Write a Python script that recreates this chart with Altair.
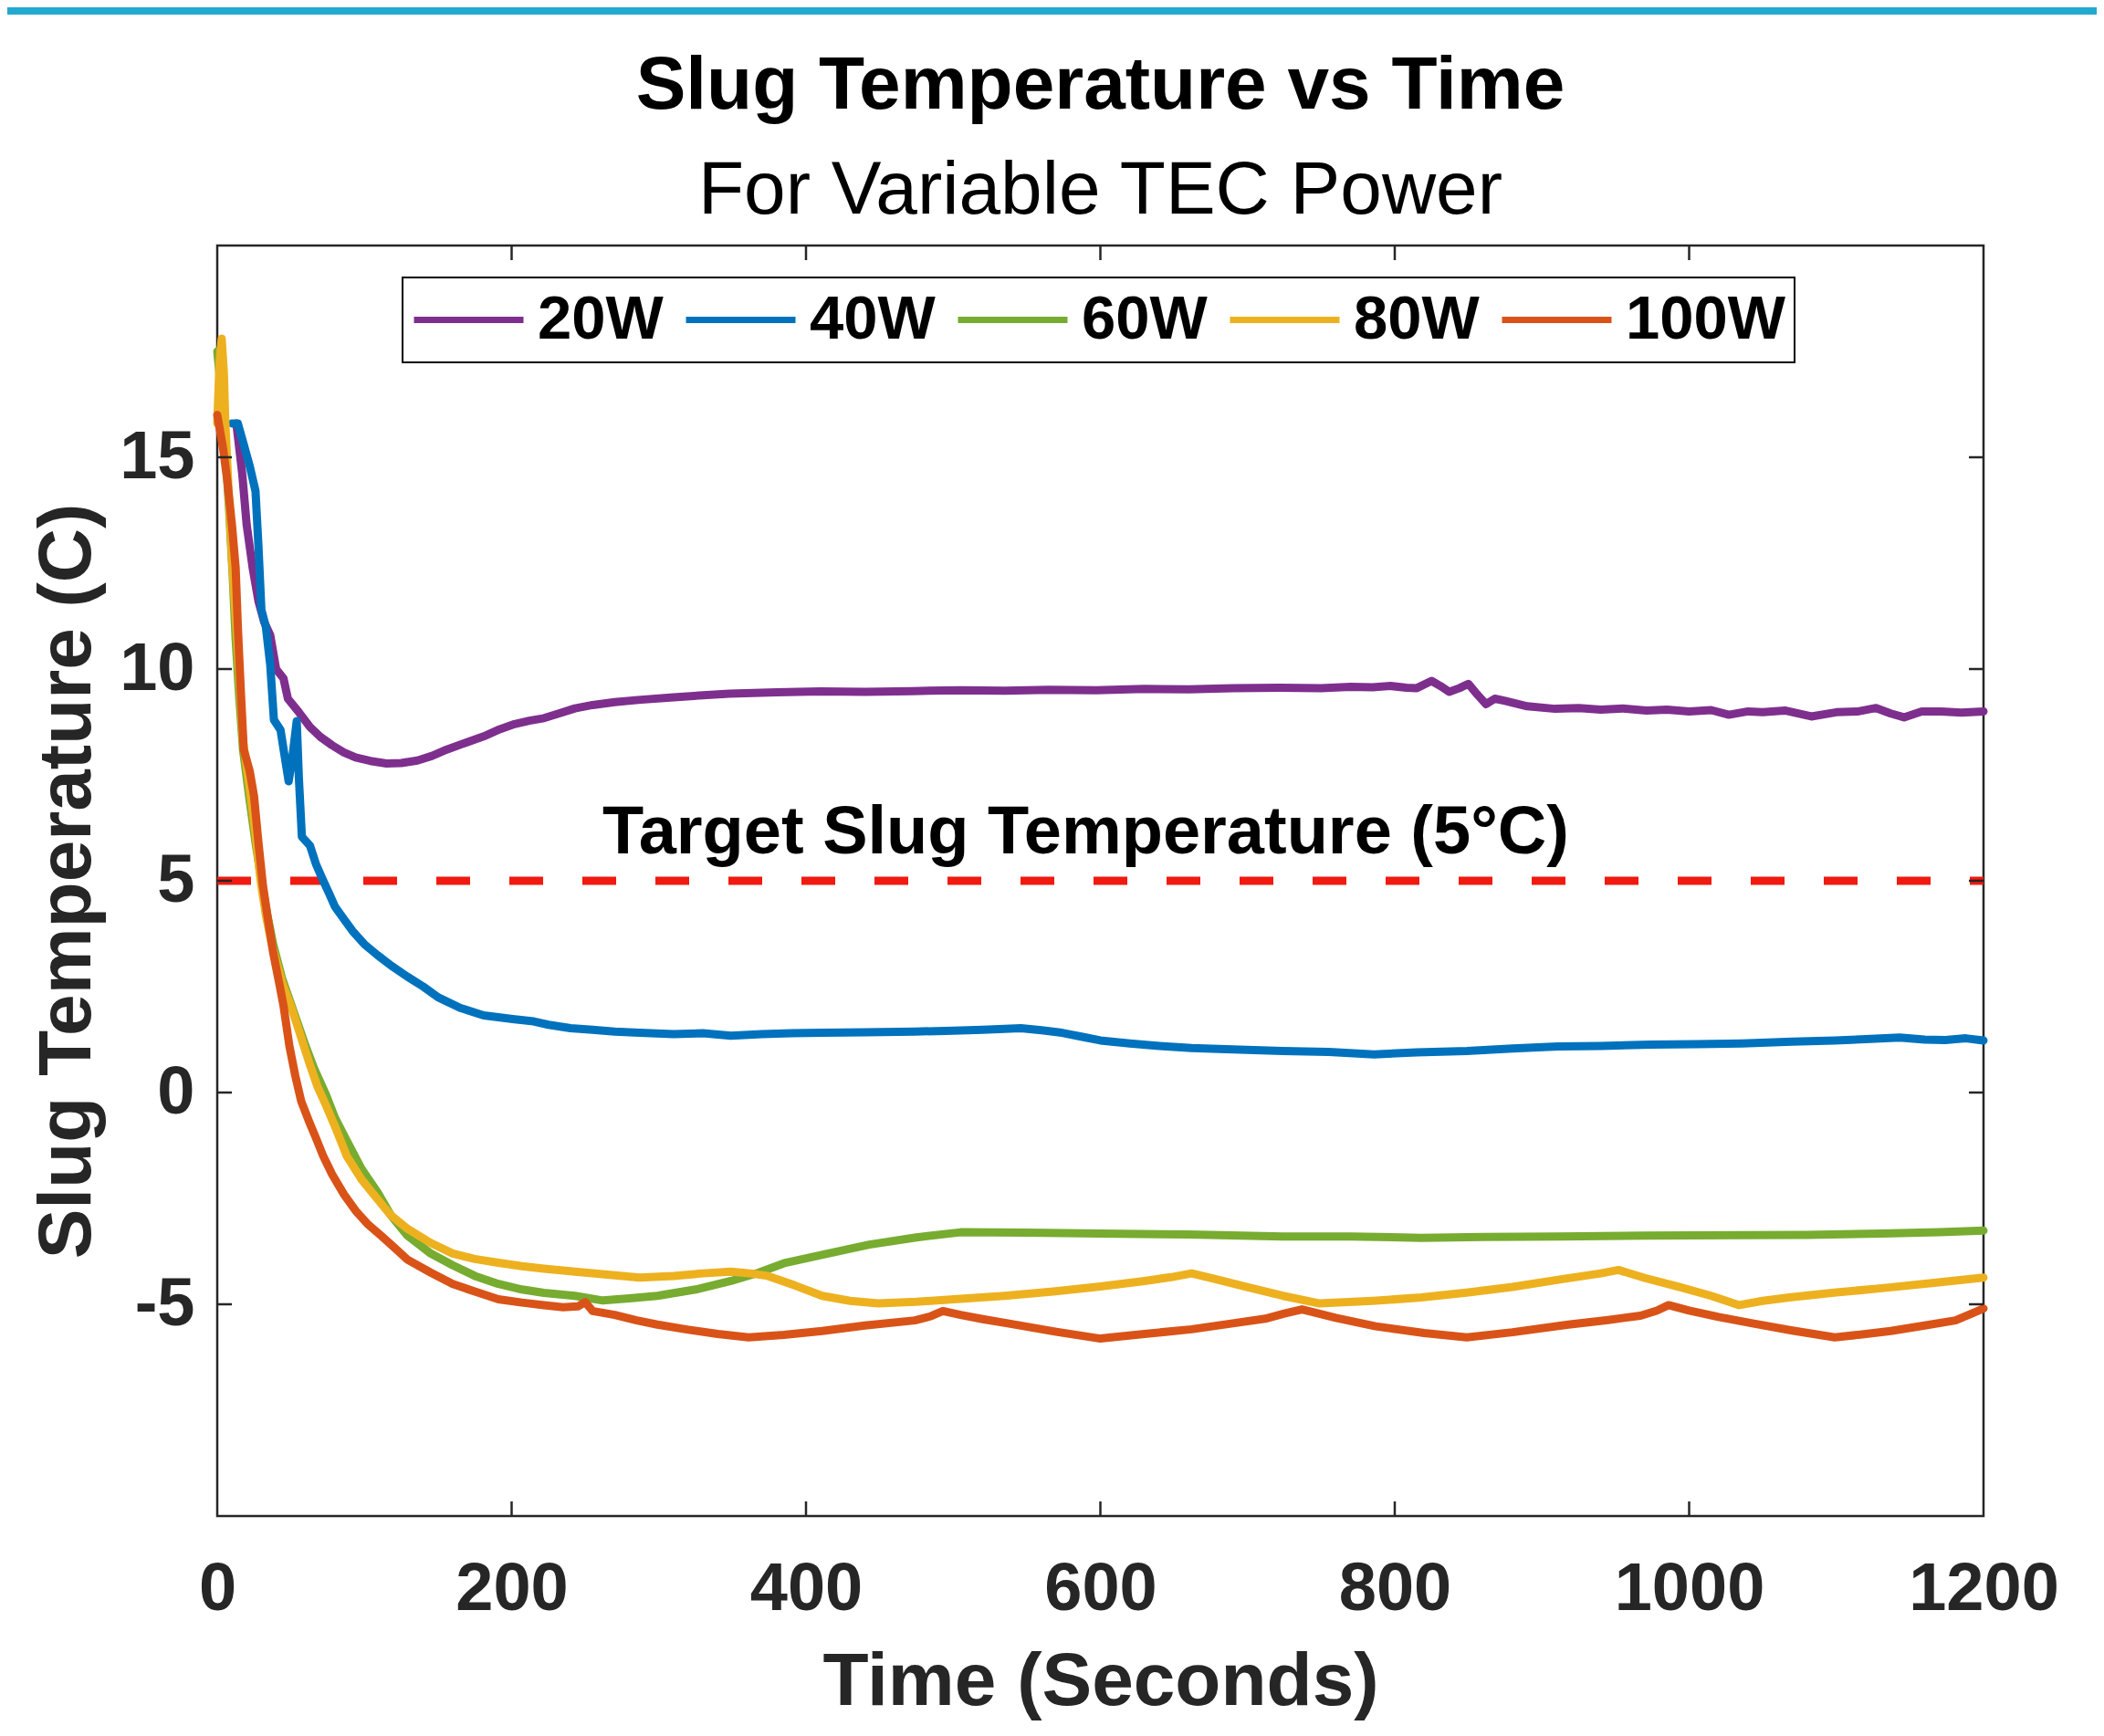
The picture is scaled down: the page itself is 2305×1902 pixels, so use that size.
import altair as alt
import pandas as pd

FONT = "Liberation Sans"
AXIS_COLOR = "#262626"

# ---------------- data ----------------
series_names = ["20W", "40W", "60W", "80W", "100W"]
series_colors = ["#7E2F8E", "#0072BD", "#77AC30", "#EDB120", "#D95319"]

t_20 = [13, 17, 20, 24, 28, 32, 36, 40, 45, 48, 55, 63, 70, 78, 86, 94, 104, 115, 125, 136, 146, 156, 168,
        181, 192, 202, 212, 222, 232, 243, 255, 270, 286, 310, 330, 348, 380, 410, 440, 472, 505, 535, 565,
        597, 630, 660, 690, 722, 750, 770, 785, 797, 808, 815, 825, 831, 837, 844, 850, 856, 862, 868, 875,
        890, 909, 925, 940, 955, 971, 985, 1000, 1015, 1027, 1040, 1050, 1065, 1083, 1100, 1115, 1127, 1137,
        1146, 1158, 1171, 1185, 1200]
v_20 = [15.8, 14.6, 13.4, 12.4, 11.6, 11.1, 10.8, 10.0, 9.78, 9.3, 9.0, 8.63, 8.4, 8.2, 8.03, 7.91, 7.83,
        7.77, 7.78, 7.84, 7.95, 8.1, 8.25, 8.41, 8.58, 8.7, 8.78, 8.84, 8.95, 9.07, 9.15, 9.22, 9.27, 9.33,
        9.38, 9.42, 9.45, 9.47, 9.46, 9.48, 9.5, 9.49, 9.51, 9.5, 9.53, 9.52, 9.55, 9.56, 9.55, 9.58, 9.57,
        9.6, 9.56, 9.55, 9.72, 9.6, 9.46, 9.55, 9.65, 9.4, 9.17, 9.3, 9.25, 9.12, 9.06, 9.08, 9.04, 9.07,
        9.02, 9.04, 9.0, 9.03, 8.92, 9.0, 8.98, 9.02, 8.88, 8.98, 9.0, 9.08, 8.95, 8.86, 9.0, 9.0, 8.97, 9.0]

t_40 = [10, 14, 18, 22, 26, 28, 30, 33, 36, 38.5, 43, 46, 48.5, 51, 54, 55.5, 57.5, 63, 67, 71.5, 76, 80, 86,
        92, 100, 109, 118, 129, 140, 150, 165, 181, 202, 215, 225, 240, 255, 270, 287, 310, 330, 349, 370,
        390, 411, 440, 474, 500, 520, 546, 560, 574, 587, 600, 620, 640, 662, 690, 724, 755, 786, 815, 849,
        880, 911, 940, 974, 1005, 1036, 1070, 1099, 1120, 1143, 1160, 1174, 1188, 1200]
v_40 = [15.8, 15.8, 15.3, 14.8, 14.2, 12.9, 11.4, 11.0, 10.1, 8.8, 8.56, 7.9, 7.35, 7.9, 8.77, 7.4, 6.04,
        5.83, 5.4, 5.04, 4.7, 4.39, 4.1, 3.81, 3.5, 3.24, 3.0, 2.74, 2.5, 2.25, 2.0, 1.82, 1.73, 1.68, 1.6,
        1.52, 1.48, 1.44, 1.41, 1.38, 1.4, 1.34, 1.38, 1.4, 1.41, 1.42, 1.44, 1.46, 1.48, 1.52, 1.47, 1.41,
        1.32, 1.23, 1.16, 1.1, 1.05, 1.02, 0.98, 0.96, 0.9, 0.95, 0.98, 1.04, 1.09, 1.1, 1.13, 1.14, 1.16,
        1.2, 1.23, 1.26, 1.3, 1.25, 1.24, 1.28, 1.23]

t_60 = [0, 2, 5, 8, 10.5, 12.5, 15, 17.5, 22, 26, 30, 34, 38, 44, 50, 55, 60, 66, 74, 80, 88, 98, 109, 118,
        129, 145, 160, 175, 191, 207, 222, 243, 262, 280, 299, 325, 349, 368, 386, 415, 443, 475, 505, 550,
        600, 660, 724, 770, 818, 860, 911, 970, 1036, 1080, 1131, 1170, 1200]
v_60 = [17.5, 16.8, 15.4, 13.8, 12.2, 10.7, 9.3, 8.1, 6.9, 5.9, 5.0, 4.2, 3.5, 2.7, 2.1, 1.6, 1.1, 0.55,
        -0.06, -0.6, -1.14, -1.8, -2.36, -2.9, -3.37, -3.8, -4.08, -4.33, -4.52, -4.65, -4.73, -4.8, -4.91,
        -4.86, -4.8, -4.65, -4.45, -4.25, -4.02, -3.8, -3.59, -3.42, -3.3, -3.31, -3.33, -3.35, -3.4, -3.4,
        -3.43, -3.41, -3.4, -3.38, -3.37, -3.36, -3.33, -3.3, -3.26]

t_80 = [0, 1.5, 3, 4.5, 5.5, 8, 10, 13, 17.5, 22, 26, 29.5, 33, 37, 44, 51, 57, 63, 68, 73.6, 80, 88, 98,
        108.7, 118, 129.4, 145, 160, 175, 191, 207, 222, 243, 265, 287, 310, 330, 349, 362, 374, 392, 411,
        430, 449, 475, 505, 535, 568, 600, 630, 648, 662, 680, 699, 724, 749, 785, 818, 850, 880, 915, 940,
        952, 970, 993, 1015, 1034, 1050, 1068, 1100, 1131, 1165, 1200]
v_80 = [15.8, 17.2, 17.8, 17.0, 15.8, 14.0, 12.6, 11.0, 8.3, 7.2, 6.1, 5.0, 4.2, 3.5, 2.6, 1.95, 1.3, 0.65,
        0.15, -0.28, -0.8, -1.5, -2.05, -2.51, -2.9, -3.22, -3.55, -3.8, -3.93, -4.02, -4.1, -4.16, -4.23,
        -4.3, -4.37, -4.33, -4.27, -4.23, -4.27, -4.33, -4.55, -4.8, -4.92, -4.98, -4.94, -4.87, -4.8, -4.7,
        -4.58, -4.45, -4.36, -4.27, -4.42, -4.59, -4.8, -4.98, -4.92, -4.84, -4.72, -4.59, -4.4, -4.27,
        -4.19, -4.38, -4.59, -4.8, -5.02, -4.92, -4.84, -4.72, -4.62, -4.5, -4.37]

t_100 = [0, 1.5, 4, 7, 10, 12.5, 14, 16, 18, 22, 25, 28, 31, 34, 38, 42, 45, 49, 53, 57, 62, 67, 72, 78, 86,
         94, 102, 111, 120, 129, 145, 160, 175, 191, 207, 222, 235, 245, 250, 255, 270, 285, 299, 320, 340,
         361, 385, 411, 440, 474, 485, 493, 505, 520, 537, 570, 600, 630, 662, 690, 712, 725, 737, 760, 787,
         820, 849, 880, 918, 945, 967, 978, 986, 1000, 1020, 1043, 1070, 1099, 1115, 1137, 1160, 1181, 1192,
         1200]
v_100 = [16.0, 15.7, 15.2, 14.4, 13.4, 12.4, 11.0, 9.5, 8.1, 7.6, 7.0, 5.9, 4.9, 4.2, 3.3, 2.6, 2.05, 1.1,
         0.4, -0.2, -0.65, -1.07, -1.5, -1.93, -2.4, -2.79, -3.1, -3.37, -3.65, -3.94, -4.25, -4.52, -4.7,
         -4.88, -4.96, -5.02, -5.07, -5.05, -4.95, -5.16, -5.25, -5.38, -5.48, -5.6, -5.7, -5.78, -5.72,
         -5.63, -5.5, -5.38, -5.28, -5.16, -5.25, -5.35, -5.45, -5.65, -5.81, -5.7, -5.59, -5.45, -5.34,
         -5.22, -5.12, -5.32, -5.52, -5.68, -5.78, -5.66, -5.48, -5.37, -5.27, -5.15, -5.02, -5.15, -5.3,
         -5.45, -5.62, -5.78, -5.72, -5.63, -5.5, -5.38, -5.22, -5.1]

x_ticks = [0, 200, 400, 600, 800, 1000, 1200]
y_ticks = [-5, 0, 5, 10, 15]
x_domain = [0, 1200]
y_domain = [-10, 20]

target_value = 5
target_span = [0, 1200]
target_label = "Target Slug Temperature (5°C)"
target_label_t = 590
target_label_v = 5.65

banner_color = "#23A9D0"

# ---------------- tables ----------------
all_t = [t_20, t_40, t_60, t_80, t_100]
all_v = [v_20, v_40, v_60, v_80, v_100]
rows = []
for k, (name, ts, vs) in enumerate(zip(series_names, all_t, all_v)):
    for t, v in zip(ts, vs):
        rows.append({"t": t, "v": v, "series": name, "k": k})
df = pd.DataFrame(rows)

target_df = pd.DataFrame({"t0": [target_span[0]], "t1": [target_span[1]], "v": [target_value]})
label_df = pd.DataFrame({"t": [target_label_t], "v": [target_label_v], "label": [target_label]})
xt_df = pd.DataFrame({"t": x_ticks[1:-1]})
yt_df = pd.DataFrame({"v": y_ticks})
banner_df = pd.DataFrame({"name": ["banner"]})

W, H = 1935, 1392
PAD_L, PAD_T, PAD_R, PAD_B = 230, 261, 124, 233
TICK = 16
XT = "Time (Seconds)"
YT = "Slug Temperature (C)"

x_scale = alt.Scale(domain=x_domain, nice=False, zero=False)
y_scale = alt.Scale(domain=y_domain, nice=False, zero=False)

x_axis = alt.Axis(values=x_ticks, title=XT, labelPadding=44, titleBaseline="alphabetic", titleY=206,
                  labelExpr="datum.value", labelFlush=False, labelOverlap=False)
y_axis = alt.Axis(values=y_ticks, title=YT, labelPadding=25, titleBaseline="alphabetic", titleX=-140,
                  labelExpr="datum.value", labelFlush=False, labelOverlap=False)

banner = alt.Chart(banner_df).mark_rect(color=banner_color).encode(
    x=alt.value(-PAD_L), x2=alt.value(W + PAD_R), y=alt.value(-PAD_T), y2=alt.value(-PAD_T + 8)
)

target_rule = alt.Chart(target_df).mark_rule(
    color="#F01A10", strokeWidth=9, strokeDash=[37, 43]
).encode(
    x=alt.X("t0:Q", scale=x_scale, axis=x_axis, title=XT),
    x2="t1:Q",
    y=alt.Y("v:Q", scale=y_scale, axis=y_axis, title=YT),
)

lines = alt.Chart(df).mark_line(strokeWidth=9, strokeJoin="round", strokeCap="round").encode(
    x=alt.X("t:Q", scale=x_scale, title=XT),
    y=alt.Y("v:Q", scale=y_scale, title=YT),
    color=alt.Color(
        "series:N",
        scale=alt.Scale(domain=series_names, range=series_colors),
        sort=series_names,
        legend=alt.Legend(
            title=None, orient="none", legendX=203, legendY=35, direction="horizontal",
            symbolType="stroke", symbolSize=14400, symbolStrokeWidth=7, clipHeight=75,
            labelFont=FONT, labelFontSize=67, labelFontWeight="bold", labelColor="black",
            labelOffset=12, columnPadding=21, padding=9, strokeColor="black", fillColor="white",
            labelLimit=0, symbolOpacity=1,
        ),
    ),
    order=alt.Order("t:Q"),
)

target_text = alt.Chart(label_df).mark_text(
    font=FONT, fontSize=74, fontWeight="bold", baseline="alphabetic", align="center", color="black"
).encode(
    x=alt.X("t:Q", scale=x_scale, title=XT),
    y=alt.Y("v:Q", scale=y_scale, title=YT),
    text="label:N",
)

tick_style = dict(color=AXIS_COLOR, strokeWidth=2.5)
bottom_ticks = alt.Chart(xt_df).mark_rule(**tick_style).encode(
    x=alt.X("t:Q", scale=x_scale, title=XT), y=alt.value(H), y2=alt.value(H - TICK))
top_ticks = alt.Chart(xt_df).mark_rule(**tick_style).encode(
    x=alt.X("t:Q", scale=x_scale, title=XT), y=alt.value(0), y2=alt.value(TICK))
left_ticks = alt.Chart(yt_df).mark_rule(**tick_style).encode(
    y=alt.Y("v:Q", scale=y_scale, title=YT), x=alt.value(0), x2=alt.value(TICK))
right_ticks = alt.Chart(yt_df).mark_rule(**tick_style).encode(
    y=alt.Y("v:Q", scale=y_scale, title=YT), x=alt.value(W), x2=alt.value(W - TICK))

chart = alt.layer(
    banner, target_rule, lines, target_text, bottom_ticks, top_ticks, left_ticks, right_ticks
).properties(
    width=W,
    height=H,
    title=alt.TitleParams(
        text="Slug Temperature vs Time",
        subtitle="For Variable TEC Power",
        font=FONT, fontSize=82, fontWeight="bold", color="black",
        subtitleFont=FONT, subtitleFontSize=82, subtitleFontWeight="normal", subtitleColor="black",
        anchor="middle", offset=-243, subtitlePadding=33,
    ),
    autosize=alt.AutoSizeParams(type="none"),
    padding={"left": PAD_L, "top": PAD_T, "right": PAD_R, "bottom": PAD_B},
).configure_view(
    stroke=AXIS_COLOR, strokeWidth=2.5
).configure_axis(
    grid=False, ticks=False, tickSize=0, domain=False,
    labelFont=FONT, labelFontSize=74, labelFontWeight="bold", labelColor=AXIS_COLOR,
    titleFont=FONT, titleFontSize=82, titleFontWeight="bold", titleColor=AXIS_COLOR,
).configure_legend(
    strokeWidth=2
)

chart.save("out.html", embed_options={"renderer": "svg", "actions": False})
